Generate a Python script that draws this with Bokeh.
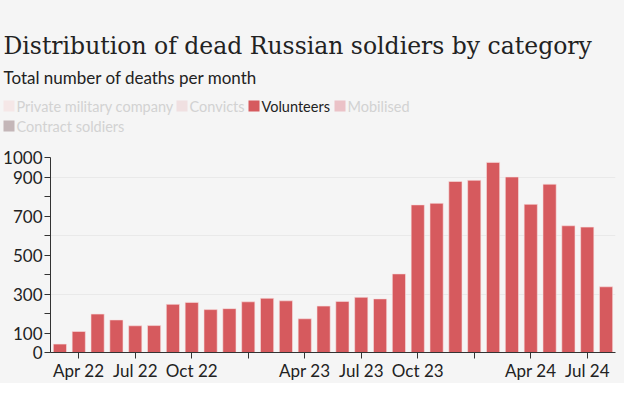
from bokeh.plotting import figure
from bokeh.layouts import column
from bokeh.models import FixedTicker, Range1d
from bokeh.core.properties import value
from bokeh.embed import file_html
from bokeh.resources import INLINE

months = ["Mar 22", "Apr 22", "May 22", "Jun 22", "Jul 22", "Aug 22", "Sep 22", "Oct 22",
          "Nov 22", "Dec 22", "Jan 23", "Feb 23", "Mar 23", "Apr 23", "May 23", "Jun 23",
          "Jul 23", "Aug 23", "Sep 23", "Oct 23", "Nov 23", "Dec 23", "Jan 24", "Feb 24",
          "Mar 24", "Apr 24", "May 24", "Jun 24", "Jul 24", "Aug 24"]
volunteers = [43, 108, 197, 167, 137, 138, 247, 257, 220, 225, 260, 278, 265, 173, 238,
              262, 283, 275, 403, 757, 765, 877, 883, 975, 900, 760, 863, 650, 643, 337]
tick_months = ["Apr 22", "Jul 22", "Oct 22", "Jan 23", "Apr 23", "Jul 23", "Oct 23",
               "Jan 24", "Apr 24", "Jul 24"]
hidden_tick_labels = ["Jan 23", "Jan 24"]
y_labelled = [0, 100, 300, 500, 700, 900, 1000]
y_minor = [200, 400, 600, 800]
categories = ["Private military company", "Convicts", "Volunteers", "Mobilised", "Contract soldiers"]
cat_colors = ["#f5e7e7", "#f0e0e1", "#d65a5e", "#ebc2c7", "#c4b6b8"]
shown_category = "Volunteers"

title_text = "Distribution of dead Russian soldiers by category"
subtitle_text = "Total number of deaths per month"

BG = "#f5f5f5"
SANS = "Lato"
SERIF = "DejaVu Serif"
BAR = "#d65a5e"
INK = "#222222"
FADED = "#d2d2d2"
W = 624
TOP_H = 143
BOTTOM_H = 383 - TOP_H

# legend layout (pixel positions of each swatch in the header: left, top)
legend_swatch_left = [3, 176, 248, 334, 3]
legend_swatch_top = [100, 100, 100, 100, 120]
SW = 11

# ---------------- header (title, subtitle, legend) ----------------
head = figure(width=W, height=TOP_H, output_backend="svg", toolbar_location=None,
              x_range=Range1d(0, W), y_range=Range1d(TOP_H, 0),
              x_axis_type=None, y_axis_type=None,
              min_border_left=0, min_border_right=0, min_border_top=0, min_border_bottom=0)
head.frame_align = False
head.background_fill_color = BG
head.border_fill_color = BG
head.outline_line_color = None
head.grid.grid_line_color = None

head.text(x=[3], y=[45], text=[title_text], text_font=value(SERIF), text_font_size="23.5px",
          text_color=INK, text_baseline="alphabetic")
head.text(x=[3], y=[77], text=[subtitle_text], text_font=value(SANS), text_font_size="17px",
          text_color=INK, text_baseline="alphabetic")

head.quad(left=legend_swatch_left, right=[v + SW for v in legend_swatch_left],
          top=legend_swatch_top, bottom=[v + SW for v in legend_swatch_top],
          fill_color=cat_colors, line_color=None)
head.text(x=[v + SW + 2 for v in legend_swatch_left],
          y=[v + SW / 2 + 0.5 for v in legend_swatch_top],
          text=categories, text_font=value(SANS), text_font_size="14.5px",
          text_color=[INK if c == shown_category else FADED for c in categories],
          text_baseline="middle")

# ---------------- chart ----------------
x = list(range(len(months)))

p = figure(width=W, height=BOTTOM_H, output_backend="svg", toolbar_location=None,
           x_range=Range1d(-0.5, len(months) - 0.5), y_range=Range1d(0, 1000),
           min_border_left=50, min_border_right=9, min_border_top=14, min_border_bottom=27)
p.frame_align = False
p.background_fill_color = BG
p.border_fill_color = BG
p.outline_line_color = None

p.xgrid.grid_line_color = None
p.ygrid.ticker = FixedTicker(ticks=[300, 600, 900])
p.ygrid.grid_line_color = "#e9e9e9"

p.vbar(x=x, top=volunteers, width=0.7, fill_color=BAR, line_color="#f8e0e0", line_width=0.6)

tick_pos = [months.index(m) for m in tick_months]
p.xaxis.ticker = FixedTicker(ticks=tick_pos)
p.xaxis.major_label_overrides = {months.index(m): ("" if m in hidden_tick_labels else m)
                                 for m in tick_months}
p.yaxis.ticker = FixedTicker(ticks=y_labelled, minor_ticks=y_minor)
for ax in (p.xaxis, p.yaxis):
    ax.axis_line_color = "#333333"
    ax.major_tick_line_color = "#333333"
    ax.minor_tick_line_color = "#333333"
    ax.major_label_text_font = SANS
    ax.major_label_text_font_size = "17px"
    ax.major_label_text_color = INK
    ax.major_tick_in = 0
    ax.minor_tick_in = 0
p.xaxis.major_tick_out = 6
p.xaxis.minor_tick_out = 0
p.xaxis.major_label_standoff = 1
p.yaxis.major_tick_out = 6
p.yaxis.minor_tick_out = 6
p.yaxis.major_label_standoff = 2

layout = column(head, p, spacing=0, styles={"background-color": BG})
open("out.html", "w").write(file_html(layout, INLINE))
